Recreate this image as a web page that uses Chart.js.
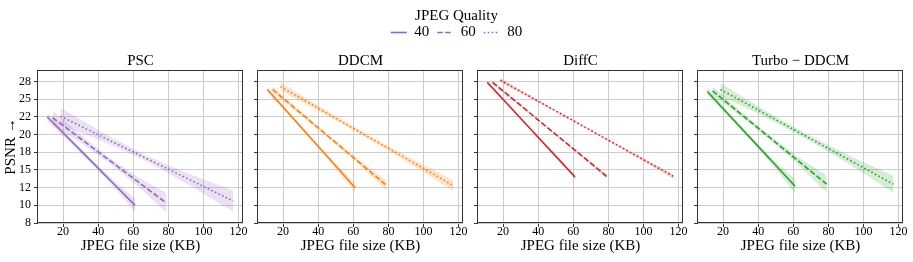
<!DOCTYPE html>
<html><head><meta charset="utf-8">
<script src="https://cdn.jsdelivr.net/npm/chart.js@4.4.1/dist/chart.umd.min.js"></script>
<style>
html,body{margin:0;padding:0;background:#fff;}
#wrap{position:relative;width:913px;height:262px;overflow:hidden;background:#fff;}
#wrap canvas{position:absolute;left:0;top:0;}
</style></head><body>
<div id="wrap">
<canvas id="c0" width="913" height="262"></canvas>
<canvas id="c1" width="913" height="262"></canvas>
<canvas id="c2" width="913" height="262"></canvas>
<canvas id="c3" width="913" height="262"></canvas>
<canvas id="leg" width="913" height="262"></canvas>
</div>
<script>
// ---------- data ----------
const panelTitles = ['PSC', 'DDCM', 'DiffC', 'Turbo \u2212 DDCM'];
const qualities = ['40', '60', '80'];
const xTicks = [20, 40, 60, 80, 100, 120];
const yTickValues = [7.5, 10, 12.5, 15, 17.5, 20, 22.5, 25, 27.5];
const yTickLabels = ['8', '10', '12', '15', '18', '20', '22', '25', '28'];

// JPEG file size (KB) sample positions per quality
const size40 = [11, 23.5, 36, 48.5, 61];
const size60 = [14, 30, 46.5, 63, 79];
const size80 = [18.5, 43, 67.5, 92, 117];

// PSC
const pscQ40   = [22.5, 19.38, 16.25, 13.13, 10.0];
const pscQ40Lo = [21.85, 18.98, 15.95, 12.68, 9.05];
const pscQ40Hi = [23.15, 19.78, 16.55, 13.58, 10.95];
const pscQ60   = [22.4, 19.42, 16.35, 13.28, 10.3];
const pscQ60Lo = [21.4, 18.87, 15.95, 12.63, 8.9];
const pscQ60Hi = [23.4, 19.97, 16.75, 13.93, 11.7];
const pscQ80   = [22.6, 19.62, 16.63, 13.65, 10.6];
const pscQ80Lo = [21.4, 19.02, 16.23, 12.85, 9.1];
const pscQ80Hi = [23.8, 20.22, 17.03, 14.45, 12.1];

// DDCM
const ddcmQ40   = [26.4, 22.93, 19.45, 15.98, 12.5];
const ddcmQ40Lo = [26.05, 22.68, 19.25, 15.68, 11.9];
const ddcmQ40Hi = [26.75, 23.18, 19.65, 16.28, 13.1];
const ddcmQ60   = [26.4, 23.05, 19.6, 16.15, 12.8];
const ddcmQ60Lo = [25.95, 22.75, 19.35, 15.8, 12.1];
const ddcmQ60Hi = [26.85, 23.35, 19.85, 16.5, 13.5];
const ddcmQ80   = [26.8, 23.32, 19.84, 16.36, 12.8];
const ddcmQ80Lo = [26.2, 22.97, 19.59, 15.96, 12.0];
const ddcmQ80Hi = [27.4, 23.67, 20.09, 16.76, 13.6];

// DiffC
const diffcQ40   = [27.4, 24.05, 20.7, 17.35, 14.0];
const diffcQ40Lo = [27.2, 23.93, 20.6, 17.23, 13.75];
const diffcQ40Hi = [27.6, 24.17, 20.8, 17.47, 14.25];
const diffcQ60   = [27.4, 24.13, 20.75, 17.38, 14.1];
const diffcQ60Lo = [27.15, 23.98, 20.65, 17.23, 13.8];
const diffcQ60Hi = [27.65, 24.28, 20.85, 17.53, 14.4];
const diffcQ80   = [27.7, 24.32, 20.94, 17.56, 14.1];
const diffcQ80Lo = [27.4, 24.17, 20.84, 17.41, 13.8];
const diffcQ80Hi = [28.0, 24.47, 21.04, 17.71, 14.4];

// Turbo-DDCM
const turboQ40   = [26.1, 22.75, 19.4, 16.05, 12.7];
const turboQ40Lo = [25.6, 22.45, 19.15, 15.6, 11.7];
const turboQ40Hi = [26.6, 23.05, 19.65, 16.5, 13.7];
const turboQ60   = [26.2, 22.95, 19.6, 16.25, 13.0];
const turboQ60Lo = [25.6, 22.6, 19.3, 15.7, 11.8];
const turboQ60Hi = [26.8, 23.3, 19.9, 16.8, 14.2];
const turboQ80   = [26.4, 23.07, 19.74, 16.41, 13.0];
const turboQ80Lo = [25.5, 22.62, 19.39, 15.81, 11.8];
const turboQ80Hi = [27.3, 23.52, 20.09, 17.01, 14.2];

// ---------- tables built from the arrays ----------
const sizes = [size40, size60, size80];
const series = [
  [[pscQ40, pscQ40Lo, pscQ40Hi], [pscQ60, pscQ60Lo, pscQ60Hi], [pscQ80, pscQ80Lo, pscQ80Hi]],
  [[ddcmQ40, ddcmQ40Lo, ddcmQ40Hi], [ddcmQ60, ddcmQ60Lo, ddcmQ60Hi], [ddcmQ80, ddcmQ80Lo, ddcmQ80Hi]],
  [[diffcQ40, diffcQ40Lo, diffcQ40Hi], [diffcQ60, diffcQ60Lo, diffcQ60Hi], [diffcQ80, diffcQ80Lo, diffcQ80Hi]],
  [[turboQ40, turboQ40Lo, turboQ40Hi], [turboQ60, turboQ60Lo, turboQ60Hi], [turboQ80, turboQ80Lo, turboQ80Hi]]
];

// ---------- styles ----------
const FONT = "'Liberation Serif', 'Times New Roman', serif";
const panelColors = ['#9467bd', '#ff7f0e', '#d62728', '#2ca02c'];
const bandColors = ['rgba(148,103,189,0.2)', 'rgba(255,127,14,0.2)', 'rgba(214,39,40,0.2)', 'rgba(44,160,44,0.2)'];
const dashes = [[], [5.5, 2.4], [1.6, 2.4]];
const W = 913, PLOT_W = 205;
const spineLefts = [38, 258, 478, 698];

const framePlugin = {
  id: 'frame',
  afterDatasetsDraw(chart) {
    const {ctx, chartArea: a} = chart;
    const x0 = Math.round(a.left) - 0.5, y0 = Math.round(a.top) + 0.5;
    const x1 = Math.round(a.right) - 0.5, y1 = Math.round(a.bottom) - 0.5;
    ctx.save();
    ctx.strokeStyle = '#333';
    ctx.lineWidth = 1;
    ctx.strokeRect(x0, y0, x1 - x0, y1 - y0);
    ctx.restore();
  }
};

function makePanel(i) {
  const yW = i === 0 ? 38 : 10;
  const left = spineLefts[i];
  const datasets = [];
  series[i].forEach(([m, lo, hi], q) => {
    const xs = sizes[q];
    datasets.push({data: xs.map((x, k) => ({x, y: lo[k]})), borderWidth: 0, pointRadius: 0, fill: false, order: 2});
    datasets.push({data: xs.map((x, k) => ({x, y: hi[k]})), borderWidth: 0, pointRadius: 0, fill: '-1', backgroundColor: bandColors[i], order: 2});
  });
  series[i].forEach(([m], q) => {
    const xs = sizes[q];
    datasets.push({data: xs.map((x, k) => ({x, y: m[k]})), borderColor: panelColors[i], borderWidth: 1.6,
      borderDash: dashes[q], borderCapStyle: 'butt', pointRadius: 0, fill: false, order: 1});
  });
  const gridOpts = {color: '#cccccc', lineWidth: 1, tickColor: '#333', tickLength: 4, tickWidth: 1, drawTicks: true};
  new Chart(document.getElementById('c' + i), {
    type: 'line',
    data: {datasets},
    options: {
      responsive: false, animation: false, events: [],
      layout: {padding: {left: left - yW, right: W - (left + PLOT_W), top: 52, bottom: 0}},
      plugins: {
        legend: {display: false}, tooltip: {enabled: false},
        title: {display: true, text: panelTitles[i], fullSize: false, color: '#000', padding: 0,
          font: {family: FONT, size: 15, weight: 'normal', lineHeight: 1.2}}
      },
      scales: {
        x: {
          type: 'linear', min: 5.7, max: 122.5,
          afterBuildTicks: s => { s.ticks = xTicks.map(v => ({value: v})); },
          afterFit: s => { s.height = 39; s.paddingLeft = 0; s.paddingRight = 0; },
          grid: gridOpts, border: {display: false},
          ticks: {color: '#000', padding: -2, maxRotation: 0, autoSkip: false, font: {family: FONT, size: 12, lineHeight: 1.2}},
          title: {display: true, text: 'JPEG file size (KB)', color: '#000', padding: {top: 0, bottom: 7},
            font: {family: FONT, size: 15, lineHeight: 1.2}}
        },
        y: {
          type: 'linear', min: 7.5, max: 29.15,
          afterBuildTicks: s => { s.ticks = yTickValues.map(v => ({value: v})); },
          afterFit: s => { s.width = yW; s.paddingTop = 0; s.paddingBottom = 0; },
          grid: gridOpts, border: {display: false},
          ticks: {display: i === 0, color: '#000', padding: 3, font: {family: FONT, size: 12},
            callback: (v, idx) => yTickLabels[idx]},
          title: {display: i === 0, text: 'PSNR \u2192', color: '#000', padding: {top: 2, bottom: 0},
            font: {family: FONT, size: 15, lineHeight: 1.2}}
        }
      }
    },
    plugins: [framePlugin]
  });
}
for (let i = 0; i < 4; i++) makePanel(i);

// legend
new Chart(document.getElementById('leg'), {
  type: 'line',
  data: {datasets: qualities.map((q, k) => ({label: q, data: [], borderColor: panelColors[0], borderDash: dashes[k], borderWidth: 1.6}))},
  options: {
    responsive: false, animation: false, events: [],
    layout: {padding: 0},
    scales: {x: {display: false}, y: {display: false}},
    plugins: {
      tooltip: {enabled: false},
      legend: {
        display: true, position: 'top', align: 'center', maxHeight: 60,
        title: {display: true, text: 'JPEG Quality', color: '#000', padding: {top: 9, bottom: -10},
          font: {family: FONT, size: 15, lineHeight: 1.2}},
        labels: {
          usePointStyle: true, pointStyle: 'line', pointStyleWidth: 16, padding: 8, color: '#000',
          font: {family: FONT, size: 15},
          generateLabels: chart => chart.data.datasets.map((d, k) => ({
            text: d.label, strokeStyle: d.borderColor, fillStyle: d.borderColor, lineWidth: d.borderWidth,
            lineDash: d.borderDash, pointStyle: 'line', datasetIndex: k, hidden: false, fontColor: '#000'
          }))
        }
      }
    }
  }
});
</script>
</body></html>
